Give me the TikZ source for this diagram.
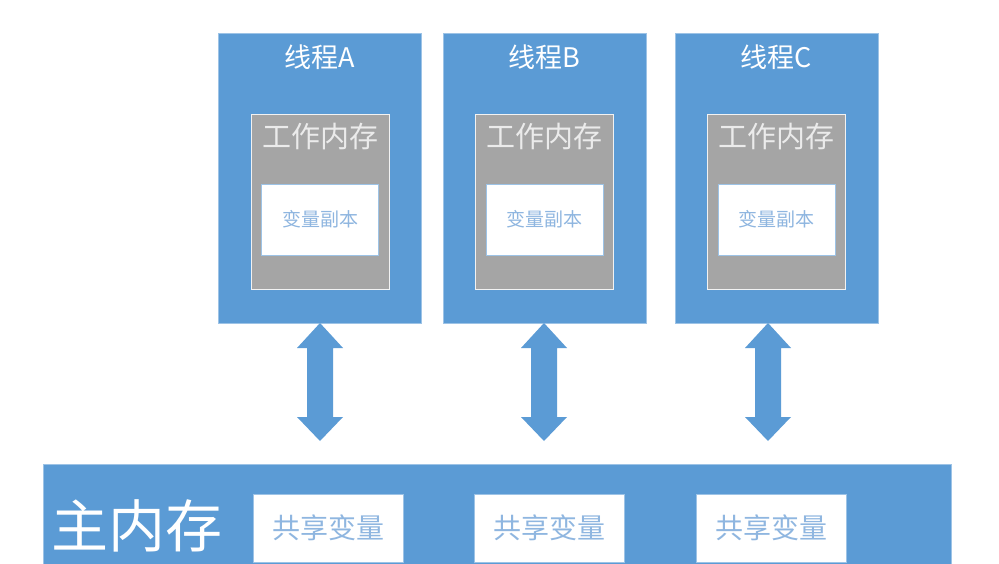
\documentclass[tikz,border=0pt]{standalone}
\usepackage{fontspec}
\newfontfamily\cjk{Noto Sans CJK SC}
\usetikzlibrary{calc}
\definecolor{mblue}{HTML}{5B9BD5}
\definecolor{lblue}{HTML}{9DC3E6}
\definecolor{mgray}{HTML}{A5A5A5}
\definecolor{tblue}{HTML}{8FB6E0}
\tikzset{
  thread/.style={fill=mblue, draw=lblue, line width=0.6pt, minimum width=203pt, minimum height=290pt, inner sep=0pt},
  work/.style={fill=mgray, draw=white!85!mgray, line width=0.8pt, minimum width=138pt, minimum height=175pt, inner sep=0pt},
  copybox/.style={fill=white, draw=lblue, line width=0.6pt, minimum width=117pt, minimum height=71pt, inner sep=0pt, font=\cjk\fontsize{19}{19}\selectfont, text=tblue},
  sharebox/.style={fill=white, draw=lblue, line width=0.6pt, minimum width=150pt, minimum height=68pt, inner sep=0pt, font=\cjk\fontsize{28}{28}\selectfont, text=tblue},
  title/.style={text=white, font=\cjk\fontsize{27}{27}\selectfont, inner sep=0pt},
  wtitle/.style={text=white!92!black, font=\cjk\fontsize{29}{29}\selectfont, inner sep=0pt},
  dbl/.style={fill=mblue, draw=none}
}
\begin{document}
\begin{tikzpicture}[x=1pt,y=-1pt]
\useasboundingbox[fill=white] (0,0) rectangle (999,564);
% main memory
\node[fill=mblue, draw=lblue, line width=0.6pt, minimum width=908pt, minimum height=102pt, inner sep=0pt] (mm) at (497,515) {};
\node[text=white, font=\cjk\fontsize{57}{57}\selectfont, inner sep=0pt] (mmt) at (137,526) {主内存};
\node[sharebox] (s1) at (328,528) {共享变量};
\node[sharebox] (s2) at (549,528) {共享变量};
\node[sharebox] (s3) at (771,528) {共享变量};
% threads
\foreach \n/\cx/\lab in {A/320/A, B/544.5/B, C/776.5/C}{
  \node[thread] (t\n) at (\cx,178) {};
  \node[title] (tt\n) at (\cx,57) {线程\lab};
  \node[work] (w\n) at (\cx,201.5) {};
  \node[wtitle] (wt\n) at (\cx,137) {工作内存};
  \node[copybox] (c\n) at (\cx,219.5) {变量副本};
}
% double arrows
\foreach \n/\ax in {A/320, B/544, C/768}{
  \coordinate (top\n) at (\ax,323);
  \coordinate (bot\n) at (\ax,441);
  \fill[mblue] (top\n) -- ++(23,25) -- ++(-10,0) -- ++(0,69) -- ++(10,0) -- (bot\n)
     -- ++(-23,-24) -- ++(10,0) -- ++(0,-69) -- ++(-10,0) -- cycle;
}
\end{tikzpicture}
\end{document}
